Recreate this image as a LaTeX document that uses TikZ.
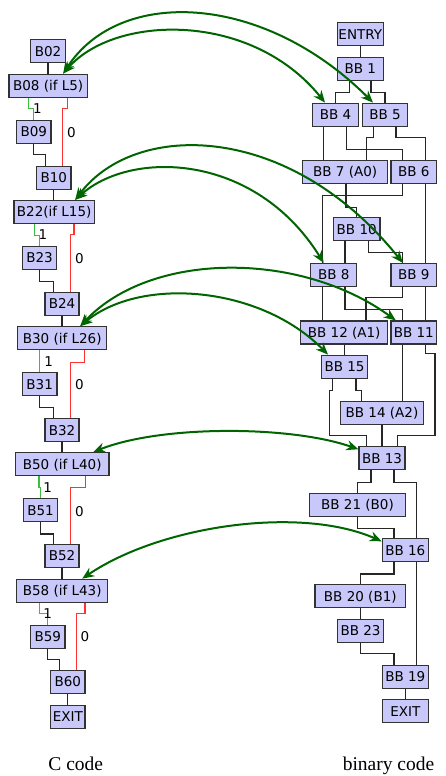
\documentclass[tikz,border=0pt]{standalone}
\usepackage{fontspec}
\setmainfont{Liberation Serif}
\newfontfamily\dvs{DejaVu Sans}
\usetikzlibrary{arrows.meta,calc}
\definecolor{boxfill}{RGB}{200,200,250}
\definecolor{boxline}{RGB}{50,50,50}
\definecolor{tgreen}{RGB}{60,190,60}
\definecolor{tred}{RGB}{255,50,50}
\definecolor{mapgreen}{RGB}{0,100,0}
\begin{document}
\begin{tikzpicture}[x=1pt,y=-1pt,
 blk/.style={draw=boxline, fill=boxfill, line width=1.2pt, minimum height=23pt, inner xsep=0pt, inner ysep=0pt, text height=9.8pt, text depth=0pt, font=\dvs\fontsize{13.5}{15}\selectfont},
 conn/.style={draw=black!85, line width=1.1pt},
 tconn/.style={draw=tgreen, line width=1.1pt},
 fconn/.style={draw=tred, line width=1.1pt},
 lbl/.style={font=\dvs\fontsize{13.5}{15}\selectfont, inner sep=0pt, text height=9.8pt, text depth=0pt},
 map/.style={draw=mapgreen, line width=2pt, arrows={Stealth[length=12pt,width=10pt]-Stealth[length=12pt,width=10pt]}},
 captxt/.style={font=\fontsize{19.5}{22}\selectfont, inner sep=0pt}]
\useasboundingbox (0,0) rectangle (446,776);

% ---------- C code column ----------
\node[blk, minimum width=34.6pt] (b02) at (48,51.3) {B02};
\node[blk, minimum width=78.3pt] (b08) at (48.2,85.7) {B08 (if L5)};
\node[blk, minimum width=34.3pt] (b09) at (33.8,131.7) {B09};
\node[blk, minimum width=34.3pt] (b10) at (53.8,177.7) {B10};
\node[blk, minimum width=80.3pt] (b22) at (54.2,212) {B22(if L15)};
\node[blk, minimum width=34.3pt] (b23) at (39.5,258) {B23};
\node[blk, minimum width=34pt] (b24) at (62,303.8) {B24};
\node[blk, minimum width=89pt] (b30) at (62.2,338.3) {B30 (if L26)};
\node[blk, minimum width=34.7pt] (b31) at (39.7,384.2) {B31};
\node[blk, minimum width=34pt] (b32) at (62,430.3) {B32};
\node[blk, minimum width=93.7pt] (b50) at (62.2,464.2) {B50 (if L40)};
\node[blk, minimum width=34.3pt] (b51) at (40.5,510.3) {B51};
\node[blk, minimum width=34pt] (b52) at (62,555.8) {B52};
\node[blk, minimum width=91pt] (b58) at (62.2,590.8) {B58 (if L43)};
\node[blk, minimum width=34.3pt] (b59) at (47.8,636.7) {B59};
\node[blk, minimum width=34.3pt] (b60) at (67.8,682) {B60};
\node[blk, minimum width=34.3pt] (exitl) at (67.8,716.7) {EXIT};

\draw[conn] (b02.south) -- (b02.south |- b08.north);
\draw[tconn] ([xshift=-20pt]b08.south) -- ++(0,10.7) -| (b09.north);
\draw[fconn] ([xshift=19.5pt]b08.south) -- ++(0,11) -| ([xshift=8.9pt]b10.north);
\draw[conn] (b09.south) -- ++(0,11) -| ([xshift=-8.1pt]b10.north);
\draw[conn] (b10.south) -- (b10.south |- b22.north);
\draw[tconn] ([xshift=-19.9pt]b22.south) -- ++(0,11.7) -| (b23.north);
\draw[fconn] ([xshift=19.8pt]b22.south) -- ++(0,10.7) -| ([xshift=8.7pt]b24.north);
\draw[conn] (b23.south) -- ++(0,11.4) -| ([xshift=-8.7pt]b24.north);
\draw[conn] (b24.south) -- (b24.south |- b30.north);
\draw[tconn] (b31.north |- b30.south) -- (b31.north);
\draw[fconn] ([xshift=22.1pt]b30.south) -- ++(0,11.7) -| ([xshift=8.7pt]b32.north);
\draw[conn] (b31.south) -- ++(0,11) -| ([xshift=-8.7pt]b32.north);
\draw[conn] (b32.south) -- (b32.south |- b50.north);
\draw[tconn] ([xshift=-23.2pt]b50.south) -- ++(0,11) -| (b51.north);
\draw[fconn] ([xshift=23.5pt]b50.south) -- ++(0,11.3) -| ([xshift=8.7pt]b52.north);
\draw[conn] (b51.south) -- ++(0,11.6) -| ([xshift=-8.7pt]b52.north);
\draw[conn] (b52.south) -- (b52.south |- b58.north);
\draw[tconn] ([xshift=-22.9pt]b58.south) -- ++(0,11) -| (b59.north);
\draw[fconn] ([xshift=22.8pt]b58.south) -- ++(0,11) -| ([xshift=8.9pt]b60.north);
\draw[conn] (b59.south) -- ++(0,11) -| ([xshift=-8.5pt]b60.north);
\draw[conn] (b60.south) -- (b60.south |- exitl.north);

\node[lbl] (l1a) at (37.3,108.7) {1};
\node[lbl] (l0a) at (71.3,132.5) {0};
\node[lbl] (l1b) at (43,234.3) {1};
\node[lbl] (l0b) at (79.3,258.3) {0};
\node[lbl] (l1c) at (48.7,361.7) {1};
\node[lbl] (l0c) at (79.3,385) {0};
\node[lbl] (l1d) at (47.7,487.7) {1};
\node[lbl] (l0d) at (79.3,512) {0};
\node[lbl] (l1e) at (47.7,613.3) {1};
\node[lbl] (l0e) at (85,637) {0};

% ---------- binary code column ----------
\node[blk, minimum width=46pt] (entry) at (360.3,34.2) {ENTRY};
\node[blk, minimum width=46pt] (bb1) at (360.3,68.7) {BB 1};
\node[blk, minimum width=45.7pt] (bb4) at (335.5,114.7) {BB 4};
\node[blk, minimum width=45.3pt] (bb5) at (385,114.7) {BB 5};
\node[blk, minimum width=85pt] (bb7) at (345.2,172) {BB 7 (A0)};
\node[blk, minimum width=45.7pt] (bb6) at (413.8,172) {BB 6};
\node[blk, minimum width=46.7pt] (bb10) at (356.7,229.2) {BB 10};
\node[blk, minimum width=46pt] (bb8) at (333.7,275) {BB 8};
\node[blk, minimum width=45.7pt] (bb9) at (413.8,275) {BB 9};
\node[blk, minimum width=87pt] (bb12) at (344.2,332.5) {BB 12 (A1)};
\node[blk, minimum width=45.7pt] (bb11) at (413.8,332.5) {BB 11};
\node[blk, minimum width=45.7pt] (bb15) at (344.5,366.7) {BB 15};
\node[blk, minimum width=82.7pt] (bb14) at (382,413) {BB 14 (A2)};
\node[blk, minimum width=46pt] (bb13) at (382,458.3) {BB 13};
\node[blk, minimum width=96.3pt] (bb21) at (357.5,504.7) {BB 21 (B0)};
\node[blk, minimum width=46pt] (bb16) at (405.3,550.3) {BB 16};
\node[blk, minimum width=90.7pt] (bb20) at (360.3,596.3) {BB 20 (B1)};
\node[blk, minimum width=45.7pt] (bb23) at (360.5,630.8) {BB 23};
\node[blk, minimum width=46pt] (bb19) at (405.3,677) {BB 19};
\node[blk, minimum width=46pt] (exitr) at (405.3,711.3) {EXIT};

\draw[conn] (entry.south) -- (entry.south |- bb1.north);
\draw[conn] ([xshift=-11pt]bb1.south) -- ++(0,11.7) -| (bb4.north);
\draw[conn] ([xshift=10.7pt]bb1.south) -- ++(0,11.7) -| (bb5.north);
\draw[conn] ([xshift=-11.8pt]bb4.south) coordinate (t) -- (t |- bb7.north);
\draw[conn] ([xshift=11.2pt]bb4.south) -- ++(0,22.3) -| ([xshift=-11.1pt]bb6.north);
\draw[conn] ([xshift=-11.7pt]bb5.south) -- ++(0,10.7) -| ([xshift=21.5pt]bb7.north);
\draw[conn] ([xshift=11pt]bb5.south) -- ++(0,10.7) -| ([xshift=11.9pt]bb6.north);
\draw[conn] ([xshift=0.8pt]bb7.south) -- ++(0,23.7) -| (bb10.north);
\draw[conn] ([xshift=-11.1pt]bb6.south) -- ++(0,11) -| ([xshift=-11.4pt]bb8.north);
\draw[conn] ([xshift=11.9pt]bb6.south) coordinate (t) -- (t |- bb9.north);
\draw[conn] ([xshift=-11.7pt]bb10.south) coordinate (t) -- (t |- bb8.north);
\draw[conn] ([xshift=11.6pt]bb10.south) -- ++(0,11.6) -| ([xshift=-11.1pt]bb9.north);
\draw[conn] ([xshift=-11.4pt]bb8.south) coordinate (t) -- (t |- bb12.north);
\draw[conn] ([xshift=11.3pt]bb8.south) -- ++(0,22.6) -| ([xshift=-11.1pt]bb11.north);
\draw[conn] ([xshift=-11.1pt]bb9.south) -- ++(0,10.6) -| ([xshift=21.8pt]bb12.north);
\draw[conn] ([xshift=11.9pt]bb9.south) coordinate (t) -- (t |- bb11.north);
\draw[conn] (bb12.south) -- (bb12.south |- bb15.north);
\draw[conn] ([xshift=-11.1pt]bb11.south) coordinate (t) -- (t |- bb14.north);
\draw[conn] ([xshift=11.9pt]bb11.south) -- ++(0,9.3) -- ++(9.3,0) -- ++(0,81.7) -| ([xshift=15.3pt]bb13.north);
\draw[conn] ([xshift=-11.8pt]bb15.south) -- ++(0,11.7) -- ++(-3.4,0) -- ++(0,45) -| ([xshift=-15.3pt]bb13.north);
\draw[conn] ([xshift=11.5pt]bb15.south) -- ++(0,11.7) -| ([xshift=-20.3pt]bb14.north);
\draw[conn] (bb14.south) -- (bb14.south |- bb13.north);
\draw[conn] ([xshift=-11pt]bb13.south) -- ++(0,11.7) -| (bb21.north);
\draw[conn] ([xshift=12pt]bb13.south) -- ++(0,11.7) -| ([xshift=11.4pt]bb16.north);
\draw[conn] (bb21.south) -- ++(0,11.7) -| ([xshift=-11.3pt]bb16.north);
\draw[conn] ([xshift=-11.3pt]bb16.south) -- ++(0,11.6) -| (bb20.north);
\draw[conn] ([xshift=11.4pt]bb16.south) coordinate (t) -- (t |- bb19.north);
\draw[conn] (bb20.south) -- (bb20.south |- bb23.north);
\draw[conn] (bb23.south) -- ++(0,11) -| ([xshift=-11.3pt]bb19.north);
\draw[conn] (bb19.south) -- (bb19.south |- exitr.north);

% ---------- mapping arrows ----------
\draw[map] ([xshift=15pt]b08.north) .. controls +(56,-87) and +(-110,-110) .. ([xshift=-12pt]bb5.north);
\draw[map] ([xshift=15pt]b08.north) .. controls +(51,-59) and +(-74,-92) .. ([xshift=-10.5pt]bb4.north);
\draw[map] ([xshift=21pt]b22.north) .. controls +(60,-80) and +(-113,-141) .. ([xshift=-11pt]bb9.north);
\draw[map] ([xshift=21pt]b22.north) .. controls +(55,-50) and +(-69,-111) .. ([xshift=-10pt]bb8.north);
\draw[map] ([xshift=18pt]b30.north) .. controls +(70,-75) and +(-96,-70) .. ([xshift=-18pt]bb11.north);
\draw[map] ([xshift=18pt]b30.north) .. controls +(60,-50) and +(-68,-69) .. ([xshift=-16.5pt]bb15.north);
\draw[map] ([xshift=31pt]b50.north) .. controls +(67,-27) and +(-68,-24) .. ([yshift=9pt]bb13.west);
\draw[map] ([xshift=20pt]b58.north) .. controls +(78,-53) and +(-82,-36) .. ([yshift=9pt]bb16.west);

% ---------- captions ----------
\node[captxt, anchor=base] (ccode) at (75.8,770) {C code};
\node[captxt, anchor=base] (bcode) at (388.5,770) {binary code};
\end{tikzpicture}
\end{document}
